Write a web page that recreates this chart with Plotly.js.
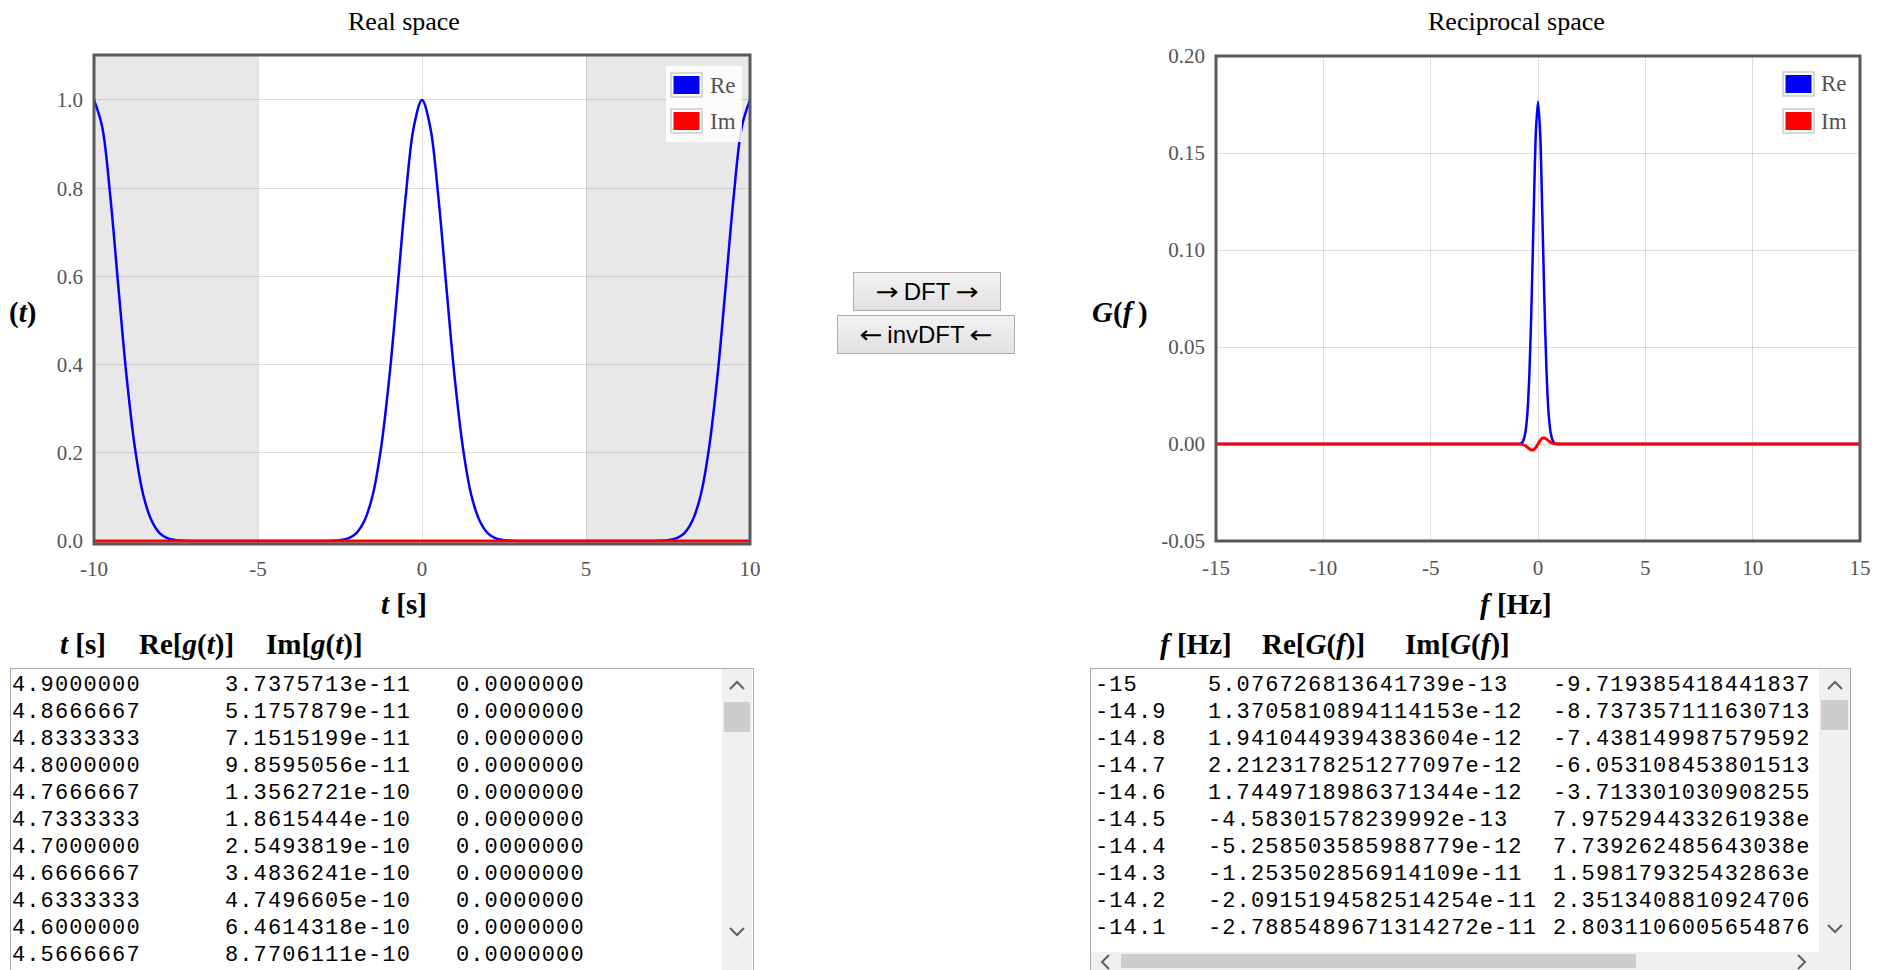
<!DOCTYPE html>
<html><head><meta charset="utf-8">
<script src="https://cdn.plot.ly/plotly-3.0.1.min.js"></script>
<style>
html,body{margin:0;padding:0;background:#fff;overflow:hidden;width:1890px;height:970px;}
#chart{position:absolute;left:0;top:0;width:1890px;height:640px;}
.btn{position:absolute;box-sizing:border-box;border:1px solid #adadad;background:linear-gradient(#f2f2f2,#e1e1e1);font-family:"Liberation Sans",Arial,sans-serif;font-size:24px;color:#000;display:flex;align-items:center;justify-content:center;white-space:nowrap;}
.btn .ar{font-family:"DejaVu Sans",sans-serif;font-size:24px;display:inline-block;transform:scaleX(1.15);}
.hdr{position:absolute;font-family:"Liberation Serif","Times New Roman",serif;font-size:29px;font-weight:bold;color:#000;top:626px;line-height:36px;white-space:nowrap;}
.ta{position:absolute;box-sizing:border-box;border:1px solid #a9a9a9;background:#fff;}
.clip{position:absolute;overflow:hidden;}
.cell{position:absolute;height:27px;line-height:27px;font-family:"Liberation Mono","Courier New",monospace;font-size:22px;letter-spacing:1.1px;color:#000;white-space:pre;}
.track{position:absolute;background:#f0f0f0;}
.thumb{position:absolute;background:#cdcdcd;}
.chev{position:absolute;}
</style></head><body>
<div id="chart"></div>
<div class="btn" style="left:853px;top:272px;width:148px;height:39px;"><span class="ar">&rarr;</span>&nbsp;DFT&nbsp;<span class="ar">&rarr;</span></div>
<div class="btn" style="left:837px;top:315px;width:178px;height:39px;"><span class="ar">&larr;</span>&nbsp;invDFT&nbsp;<span class="ar">&larr;</span></div>

<div class="hdr" style="left:60px;"><i>t</i> [s]</div>
<div class="hdr" style="left:139px;">Re[<i>g</i>(<i>t</i>)]</div>
<div class="hdr" style="left:266px;">Im[<i>g</i>(<i>t</i>)]</div>
<div class="hdr" style="left:1160px;"><i>f</i> [Hz]</div>
<div class="hdr" style="left:1262px;">Re[<i>G</i>(<i>f</i>)]</div>
<div class="hdr" style="left:1405px;">Im[<i>G</i>(<i>f</i>)]</div>

<div class="ta" style="left:10px;top:668px;width:744px;height:310px;"></div>
<div class="clip" id="leftClip" style="left:11px;top:669px;width:711px;height:301px;"></div>
<div class="track" style="left:722px;top:669px;width:30px;height:301px;"></div>
<div class="thumb" style="left:724px;top:702px;width:26px;height:30px;"></div>
<svg class="chev" style="left:729px;top:680px;" width="16" height="10"><polyline points="1,9 8,2 15,9" fill="none" stroke="#606060" stroke-width="2"/></svg>
<svg class="chev" style="left:729px;top:927px;" width="16" height="10"><polyline points="1,1 8,8 15,1" fill="none" stroke="#606060" stroke-width="2"/></svg>

<div class="ta" style="left:1090px;top:668px;width:761px;height:310px;"></div>
<div class="clip" id="rightClip" style="left:1091px;top:669px;width:728px;height:283px;"></div>
<div class="track" style="left:1819px;top:669px;width:31px;height:301px;"></div>
<div class="thumb" style="left:1821px;top:700px;width:27px;height:30px;"></div>
<svg class="chev" style="left:1827px;top:680px;" width="16" height="10"><polyline points="1,9 8,2 15,9" fill="none" stroke="#606060" stroke-width="2"/></svg>
<svg class="chev" style="left:1827px;top:924px;" width="16" height="10"><polyline points="1,1 8,8 15,1" fill="none" stroke="#606060" stroke-width="2"/></svg>
<div class="track" style="left:1091px;top:952px;width:728px;height:18px;"></div>
<div class="thumb" style="left:1121px;top:954px;width:515px;height:14px;"></div>
<svg class="chev" style="left:1100px;top:954px;" width="10" height="16"><polyline points="9,1 2,8 9,15" fill="none" stroke="#606060" stroke-width="2"/></svg>
<svg class="chev" style="left:1797px;top:954px;" width="10" height="16"><polyline points="1,1 8,8 1,15" fill="none" stroke="#606060" stroke-width="2"/></svg>

<script>
// ---------- chart data ----------
const seriesNames = ['Re', 'Im'];
const seriesColors = ['#0000ff', '#ff0000'];

// Real space: Re[g(t)]
const tReal = [-10,-9.75,-9.5,-9.25,-9,-8.75,-8.5,-8.25,-8,-7.75,-7.5,-7.25,-7,-5,
  -3,-2.75,-2.5,-2.25,-2,-1.75,-1.5,-1.25,-1,-0.75,-0.5,-0.25,0,
  0.25,0.5,0.75,1,1.25,1.5,1.75,2,2.25,2.5,2.75,3,
  5,7,7.25,7.5,7.75,8,8.25,8.5,8.75,9,9.25,9.5,9.75,10];
const gRe = [1,0.939,0.779,0.570,0.368,0.210,0.105,0.047,0.018,0.006,0.002,0.0005,0.0001,0,
  0.0001,0.0005,0.002,0.006,0.018,0.047,0.105,0.210,0.368,0.570,0.779,0.939,1,
  0.939,0.779,0.570,0.368,0.210,0.105,0.047,0.018,0.006,0.002,0.0005,0.0001,
  0,0.0001,0.0005,0.002,0.006,0.018,0.047,0.105,0.210,0.368,0.570,0.779,0.939,1];
// Real space: Im[g(t)]
const tImag = [-10, 0, 10];
const gIm = [0, 0, 0];

// Reciprocal space: Re[G(f)]
const fRe = [-15,-1,-0.9,-0.8,-0.7,-0.6,-0.5,-0.4,-0.3,-0.2,-0.1,0,0.1,0.2,0.3,0.4,0.5,0.6,0.7,0.8,0.9,1,15];
const GRe = [0,0,0.00005,0.0003,0.0014,0.0051,0.0150,0.0365,0.0728,0.1193,0.1604,0.1765,0.1604,0.1193,0.0728,0.0365,0.0150,0.0051,0.0014,0.0003,0.00005,0,0];
// Reciprocal space: Im[G(f)]
const fIm = [-15,-0.9,-0.8,-0.7,-0.6,-0.5,-0.4,-0.3,-0.2,-0.1,0,0.1,0.2,0.3,0.4,0.5,0.6,0.7,0.8,0.9,15];
const GIm = [0,0,-0.0001,-0.0003,-0.0008,-0.0016,-0.0025,-0.0031,-0.0030,-0.0018,0,0.0018,0.0030,0.0031,0.0025,0.0016,0.0008,0.0003,0.0001,0,0];

// shaded bands in real space
const shadedBands = [[-10, -5], [5, 10]];

// tick labels
const tTickVals = [-10,-5,0,5,10];
const tTickText = ['-10','-5','0','5','10'];
const gTickVals = [0,0.2,0.4,0.6,0.8,1.0];
const gTickText = ['0.0','0.2','0.4','0.6','0.8','1.0'];
const fTickVals = [-15,-10,-5,0,5,10,15];
const fTickText = ['-15','-10','-5','0','5','10','15'];
const GTickVals = [-0.05,0,0.05,0.10,0.15,0.20];
const GTickText = ['-0.05','0.00','0.05','0.10','0.15','0.20'];

// ---------- table data ----------
const leftT = ['4.9000000','4.8666667','4.8333333','4.8000000','4.7666667','4.7333333','4.7000000','4.6666667','4.6333333','4.6000000','4.5666667'];
const leftRe = ['3.7375713e-11','5.1757879e-11','7.1515199e-11','9.8595056e-11','1.3562721e-10','1.8615444e-10','2.5493819e-10','3.4836241e-10','4.7496605e-10','6.4614318e-10','8.7706111e-10'];
const leftIm = ['0.0000000','0.0000000','0.0000000','0.0000000','0.0000000','0.0000000','0.0000000','0.0000000','0.0000000','0.0000000','0.0000000'];
const rightF = ['-15','-14.9','-14.8','-14.7','-14.6','-14.5','-14.4','-14.3','-14.2','-14.1'];
const rightRe = ['5.076726813641739e-13','1.3705810894114153e-12','1.9410449394383604e-12','2.2123178251277097e-12','1.7449718986371344e-12','-4.58301578239992e-13','-5.258503585988779e-12','-1.253502856914109e-11','-2.0915194582514254e-11','-2.7885489671314272e-11'];
const rightIm = ['-9.719385418441837','-8.737357111630713','-7.438149987579592','-6.053108453801513','-3.713301030908255','7.975294433261938e','7.739262485643038e','1.598179325432863e','2.3513408810924706','2.8031106005654876'];

// ---------- tables ----------
function fillTable(id, cols, xs) {
  const el = document.getElementById(id);
  for (let i = 0; i < cols[0].length; i++) {
    cols.forEach((col, c) => {
      const d = document.createElement('div');
      d.className = 'cell';
      d.style.left = xs[c] + 'px';
      d.style.top = (2.5 + 27 * i) + 'px';
      d.textContent = col[i];
      el.appendChild(d);
    });
  }
}
fillTable('leftClip', [leftT, leftRe, leftIm], [1, 214, 445]);
fillTable('rightClip', [rightF, rightRe, rightIm], [4, 117, 462]);

// ---------- plot ----------
const W = 1890, H = 640;
const px = x => x / W, py = y => 1 - y / H;
const serif = '"Liberation Serif", "Times New Roman", serif';
const tickFont = {family: serif, size: 21, color: '#545454'};
const gridColor = 'rgba(0,0,0,0.13)';

const traces = [
  {x: tReal, y: gRe, xaxis: 'x', yaxis: 'y', type: 'scatter', mode: 'lines', name: seriesNames[0],
   line: {color: seriesColors[0], width: 2.5, shape: 'spline', smoothing: 1}},
  {x: tImag, y: gIm, xaxis: 'x', yaxis: 'y', type: 'scatter', mode: 'lines', name: seriesNames[1],
   line: {color: seriesColors[1], width: 3}},
  {x: fRe, y: GRe, xaxis: 'x2', yaxis: 'y2', type: 'scatter', mode: 'lines', name: seriesNames[0],
   line: {color: seriesColors[0], width: 2.5, shape: 'spline', smoothing: 0.8}},
  {x: fIm, y: GIm, xaxis: 'x2', yaxis: 'y2', type: 'scatter', mode: 'lines', name: seriesNames[1],
   line: {color: seriesColors[1], width: 3, shape: 'spline', smoothing: 0.8}}
];

function axisX(domain, range, vals, text, standoff) {
  return {domain, range, tickvals: vals, ticktext: text, tickfont: tickFont, ticks: '',
    ticklabelstandoff: standoff, showgrid: true, gridcolor: gridColor, gridwidth: 1,
    zeroline: false, showline: false, fixedrange: true};
}
function axisY(domain, range, vals, text, anchor) {
  return {domain, range, tickvals: vals, ticktext: text, tickfont: tickFont, ticks: '',
    ticklabelstandoff: 10, showgrid: true, gridcolor: gridColor, gridwidth: 1,
    zeroline: false, showline: false, fixedrange: true, anchor};
}

const shapes = [];
shadedBands.forEach(b => shapes.push({type: 'rect', xref: 'x', yref: 'y domain', x0: b[0], x1: b[1], y0: 0, y1: 1,
  fillcolor: '#e8e8e8', line: {width: 0}, layer: 'below'}));
['x', 'x2'].forEach((xa, i) => shapes.push({type: 'rect', xref: xa + ' domain', yref: (i ? 'y2' : 'y') + ' domain',
  x0: 0, x1: 1, y0: 0, y1: 1, line: {color: '#595959', width: 3}, fillcolor: 'rgba(0,0,0,0)', layer: 'above'}));

const annotations = [];
function legend(boxX0, boxX1, swX0, txtX, rowsY, withBg) {
  if (withBg) shapes.push({type: 'rect', xref: 'paper', yref: 'paper', x0: px(boxX0), x1: px(boxX1), y0: py(66), y1: py(142),
    fillcolor: 'rgba(255,255,255,0.85)', line: {width: 0}, layer: 'above'});
  seriesNames.forEach((n, i) => {
    const cy = rowsY[i];
    shapes.push({type: 'rect', xref: 'paper', yref: 'paper', x0: px(swX0), x1: px(swX0 + 31), y0: py(cy - 12), y1: py(cy + 12),
      fillcolor: '#ffffff', line: {color: '#cccccc', width: 1.5}, layer: 'above'});
    shapes.push({type: 'rect', xref: 'paper', yref: 'paper', x0: px(swX0 + 2.5), x1: px(swX0 + 28.5), y0: py(cy - 9), y1: py(cy + 9),
      fillcolor: seriesColors[i], line: {width: 0}, layer: 'above'});
    annotations.push({xref: 'paper', yref: 'paper', x: px(txtX), y: py(cy), xanchor: 'left', yanchor: 'middle',
      text: n, showarrow: false, font: {family: serif, size: 23, color: '#545454'}});
  });
}
legend(666, 742, 671, 708, [85, 121], true);
legend(1777, 1858, 1783, 1819, [84, 121], false);

const titleFont = {family: serif, size: 26, color: '#000'};
const axTitleFont = {family: serif, size: 29, color: '#000', weight: 'bold'};
annotations.push(
  {xref: 'paper', yref: 'paper', x: px(404), y: py(21), xanchor: 'center', yanchor: 'middle', text: 'Real space', showarrow: false, font: titleFont},
  {xref: 'paper', yref: 'paper', x: px(1516), y: py(21), xanchor: 'center', yanchor: 'middle', text: 'Reciprocal space', showarrow: false, font: titleFont},
  {xref: 'paper', yref: 'paper', x: px(404), y: py(604), xanchor: 'center', yanchor: 'middle', text: '<i>t</i> [s]', showarrow: false, font: axTitleFont},
  {xref: 'paper', yref: 'paper', x: px(1516), y: py(604), xanchor: 'center', yanchor: 'middle', text: '<i>f</i> [Hz]', showarrow: false, font: axTitleFont},
  {xref: 'paper', yref: 'paper', x: px(38), y: py(312), xanchor: 'right', yanchor: 'middle', text: '<i>g</i>\u2002(<i>t</i>)', showarrow: false, font: axTitleFont},
  {xref: 'paper', yref: 'paper', x: px(1120), y: py(312), xanchor: 'center', yanchor: 'middle', text: '<i>G</i>(<i>f</i>\u2009)', showarrow: false, font: axTitleFont}
);

const layout = {
  width: W, height: H,
  margin: {l: 0, r: 0, t: 0, b: 0, pad: 0},
  paper_bgcolor: 'rgba(0,0,0,0)', plot_bgcolor: '#ffffff',
  showlegend: false, hovermode: false,
  xaxis: axisX([px(94), px(750)], [-10, 10], tTickVals, tTickText, 10),
  yaxis: axisY([py(544), py(55)], [-0.0068, 1.102], gTickVals, gTickText, 'x'),
  xaxis2: Object.assign(axisX([px(1216), px(1860)], [-15, 15], fTickVals, fTickText, 12), {anchor: 'y2'}),
  yaxis2: axisY([py(541), py(56)], [-0.05, 0.20], GTickVals, GTickText, 'x2'),
  shapes, annotations
};
Plotly.newPlot('chart', traces, layout, {staticPlot: true, displayModeBar: false});
</script>
</body></html>
